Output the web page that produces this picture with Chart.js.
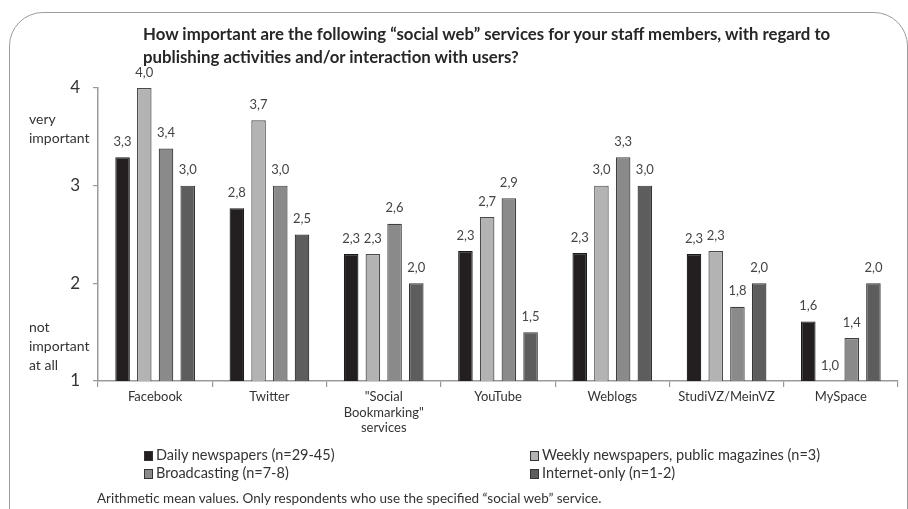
<!DOCTYPE html>
<html>
<head>
<meta charset="utf-8">
<script src="https://cdn.jsdelivr.net/npm/chart.js@4.4.1/dist/chart.umd.min.js"></script>
<style>
  body { margin: 0; background: #fff; }
  #wrap { position: relative; width: 908px; height: 509px; overflow: hidden; font-family: Lato, "Open Sans", sans-serif; color: #333; }
  #frame { position: absolute; left: 9px; top: 12px; width: 897px; height: 600px; border: 1.5px solid #9c9c9c; border-radius: 34px; }
  #chart { position: absolute; left: 0; top: 0; }
  #title { position: absolute; left: 143px; top: 22px; font-weight: bold; font-size: 16.8px; line-height: 23px; color: #262626; white-space: nowrap; }
  .side { position: absolute; left: 29px; font-size: 14px; line-height: 19px; color: #333; }
  .leg { position: absolute; font-size: 14.5px; line-height: 18px; color: #333; white-space: nowrap; }
  .leg i { display: inline-block; width: 7px; height: 8px; border: 1px solid #333; margin-right: 3px; vertical-align: -1px; }
  #note { position: absolute; left: 97px; top: 490px; font-size: 13.5px; color: #333; white-space: nowrap; }
</style>
</head>
<body>
<div id="wrap">
  <div id="frame"></div>
  <canvas id="chart" width="908" height="509"></canvas>
  <div id="title">How important are the following “social web” services for your staff members, with regard to<br>publishing activities and/or interaction with users?</div>
  <div class="side" style="top:109px">very<br>important</div>
  <div class="side" style="top:317px">not<br>important<br>at all</div>
  <div class="leg" style="left:144px; top:446px"><i style="background:#231f20"></i>Daily newspapers (n=29-45)</div>
  <div class="leg" style="left:144px; top:464px"><i style="background:#8a8a8a"></i>Broadcasting (n=7-8)</div>
  <div class="leg" style="left:530px; top:446px"><i style="background:#b3b3b3"></i>Weekly newspapers, public magazines (n=3)</div>
  <div class="leg" style="left:530px; top:464px"><i style="background:#5d5d5d"></i>Internet-only (n=1-2)</div>
  <div id="note">Arithmetic mean values. Only respondents who use the specified “social web” service.</div>
</div>
<script>
const categories = ["Facebook", "Twitter", ["\"Social", "Bookmarking\"", "services"], "YouTube", "Weblogs", "StudiVZ/MeinVZ", "MySpace"];

const daily = [3.29, 2.77, 2.30, 2.33, 2.31, 2.30, 1.61];
const weekly = [4.0, 3.67, 2.30, 2.68, 3.0, 2.33, 1.0];
const broadcasting = [3.38, 3.0, 2.61, 2.87, 3.29, 1.76, 1.44];
const internetOnly = [3.0, 2.5, 2.0, 1.5, 3.0, 2.0, 2.0];

const yTicks = [1, 2, 3, 4];

//VALUE LABELS

const valueLabels = {
  id: "valueLabels",
  afterDatasetsDraw(chart) {
    const ctx = chart.ctx;
    ctx.save();
    ctx.font = "13px Lato, sans-serif";
    ctx.fillStyle = "#444";
    ctx.textAlign = "center";
    ctx.textBaseline = "bottom";
    chart.data.datasets.forEach((ds, i) => {
      chart.getDatasetMeta(i).data.forEach((bar, j) => {
        const txt = ds.data[j].toFixed(1).replace(".", ",");
        ctx.fillText(txt, bar.x, bar.y - 9);
      });
    });
    ctx.restore();
  },
};

const ctx = document.getElementById("chart").getContext("2d");

const chart = new Chart(ctx, {
  type: "bar",
  data: {
    labels: categories,
    datasets: [
      { label: "Daily newspapers (n=29-45)", data: daily, backgroundColor: "#231f20", borderColor: "#1a1a1a" },
      { label: "Weekly newspapers, public magazines (n=3)", data: weekly, backgroundColor: "#b3b3b3", borderColor: "#4a4a4a" },
      { label: "Broadcasting (n=7-8)", data: broadcasting, backgroundColor: "#8a8a8a", borderColor: "#3f3f3f" },
      { label: "Internet-only (n=1-2)", data: internetOnly, backgroundColor: "#5d5d5d", borderColor: "#333" },
    ],
  },
  options: {
    responsive: false,
    animation: false,
    layout: { padding: { left: 68, top: 88, right: 10, bottom: 66 } },
    datasets: {
      bar: { categoryPercentage: 0.76, barPercentage: 0.67, borderWidth: 1.2 },
    },
    plugins: {
      legend: { display: false },
      tooltip: { enabled: false },
    },
    scales: {
      x: {
        grid: { offset: true, drawOnChartArea: false, tickLength: 6, color: "#999", lineWidth: 1.2 },
        border: { color: "#9a9a9a", width: 1.5 },
        ticks: { color: "#333", font: { family: "Lato", size: 13 }, padding: 2, maxRotation: 0, autoSkip: false },
        afterFit(scale) { scale.height = 62; },
      },
      y: {
        min: 1,
        max: 4,
        afterBuildTicks(scale) { scale.ticks = yTicks.map((v) => ({ value: v })); },
        grid: { drawOnChartArea: false, tickLength: 5, color: "#999", lineWidth: 1.2 },
        border: { color: "#9a9a9a", width: 1.5 },
        ticks: { color: "#333", font: { family: "Lato", size: 17 }, padding: 13 },
        afterFit(scale) { scale.width = 30; },
      },
    },
  },
  plugins: [valueLabels],
});
</script>
</body>
</html>
